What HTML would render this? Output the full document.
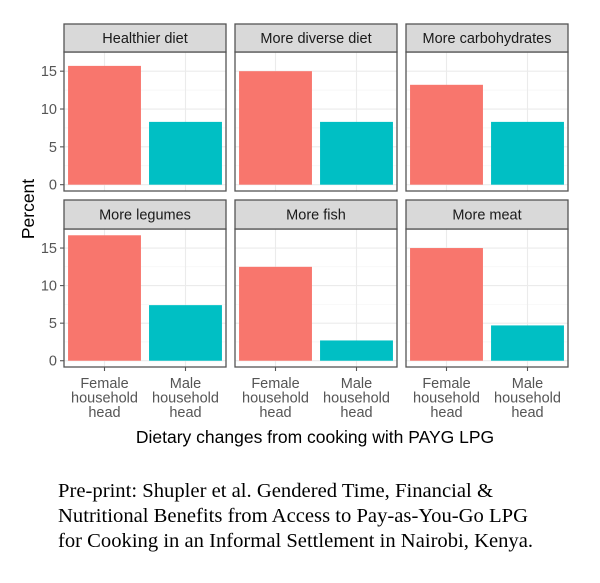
<!DOCTYPE html>
<html><head><meta charset="utf-8"><style>
body{margin:0;background:#fff;width:600px;height:583px;overflow:hidden}
svg{display:block}
</style></head><body>
<svg id="chart" width="600" height="583" xmlns="http://www.w3.org/2000/svg" font-family="Liberation Sans, Arial, sans-serif"></svg>
<script>
const facets = ["Healthier diet","More diverse diet","More carbohydrates","More legumes","More fish","More meat"];
const groups = ["Female household head","Male household head"];
const femaleValues = [15.7, 15.0, 13.2, 16.7, 12.5, 15.0];
const maleValues = [8.3, 8.3, 8.3, 7.4, 2.7, 4.7];
const yTicks = [0, 5, 10, 15];
const yMinor = [2.5, 7.5, 12.5];

const NS = "http://www.w3.org/2000/svg";
const svg = document.getElementById('chart');
function mk(tag, attrs, parent){const e=document.createElementNS(NS,tag);for(const k in attrs)e.setAttribute(k,attrs[k]);(parent||svg).appendChild(e);return e;}
const colors=["#F8766D","#00BFC4"];
const colX=[64,235,406], pw=162;
const rows=[{st:24,pt:52,pb:191},{st:200,pt:229,pb:367}];
const allVals=femaleValues.concat(maleValues);
const vmax=Math.max(...allVals), pad=vmax*0.05;
const d0=-pad, d1=vmax+pad;
for(let i=0;i<facets.length;i++){
  const r=rows[Math.floor(i/3)], x0=colX[i%3];
  const g=mk('g',{});
  
  
  const y=v=>r.pb-(v-d0)/(d1-d0)*(r.pb-r.pt);
  const xc=k=>x0+pw*(0.5+k)/2;
  const bw=pw/2*0.9;
  mk('rect',{x:x0,y:r.pt,width:pw,height:r.pb-r.pt,fill:'#fff'},g);
  yMinor.forEach(v=>mk('line',{x1:x0,x2:x0+pw,y1:y(v),y2:y(v),stroke:'#f3f3f3','stroke-width':0.6},g));
  yTicks.forEach(v=>mk('line',{x1:x0,x2:x0+pw,y1:y(v),y2:y(v),stroke:'#ebebeb','stroke-width':1.1},g));
  [0,1].forEach(k=>mk('line',{x1:xc(k),x2:xc(k),y1:r.pt,y2:r.pb,stroke:'#ebebeb','stroke-width':1.1},g));
  [femaleValues[i],maleValues[i]].forEach((v,k)=>{
    const b=mk('rect',{x:xc(k)-bw/2,y:y(v),width:bw,height:y(0)-y(v),fill:colors[k]},g);
    
    
  });
  mk('rect',{x:x0,y:r.pt,width:pw,height:r.pb-r.pt,fill:'none',stroke:'#555','stroke-width':1.3},g);
  const s=mk('rect',{x:x0,y:r.st,width:pw,height:r.pt-r.st,fill:'#d9d9d9',stroke:'#555','stroke-width':1.3},g);
  
  
  const t=mk('text',{x:x0+pw/2,y:(r.st+r.pt)/2+5,'text-anchor':'middle','font-size':14.5,fill:'#1a1a1a'},g);
  t.textContent=facets[i];
  if(i%3===0){
    yTicks.forEach(v=>{
      mk('line',{x1:x0-4,x2:x0,y1:y(v),y2:y(v),stroke:'#555','stroke-width':1.1},g);
      const l=mk('text',{x:x0-7,y:y(v)+5,'text-anchor':'end','font-size':14.5,fill:'#555'},g);
      
      
      l.textContent=v;
    });
  }
  if(i>=3){
    [0,1].forEach(k=>{
      mk('line',{x1:xc(k),x2:xc(k),y1:r.pb,y2:r.pb+4,stroke:'#555','stroke-width':1.1},g);
      const parts=groups[k].split(' ');
      parts.forEach((p,j)=>{
        const l=mk('text',{x:xc(k),y:r.pb+21+j*14.5,'text-anchor':'middle','font-size':14.5,fill:'#555'},g);
        
        
        l.textContent=p;
      });
    });
  }
}
const yt=mk('text',{x:0,y:0,transform:'translate(34,209) rotate(-90)','text-anchor':'middle','font-size':17.5,fill:'#000'});


yt.textContent='Percent';
const xt=mk('text',{x:315,y:443,'text-anchor':'middle','font-size':17.5,fill:'#000'});


xt.textContent='Dietary changes from cooking with PAYG LPG';
const cap=["Pre-print: Shupler et al. Gendered Time, Financial &","Nutritional Benefits from Access to Pay-as-You-Go LPG","for Cooking in an Informal Settlement in Nairobi, Kenya."];
const capW=[435,470,475];
cap.forEach((c,j)=>{
  const t=mk('text',{x:58,y:497+j*25,'font-size':19.5,'font-family':'Liberation Serif, serif',fill:'#000',textLength:capW[j],lengthAdjust:'spacingAndGlyphs'});
  
  
  t.textContent=c;
});
</script>
</body></html>
